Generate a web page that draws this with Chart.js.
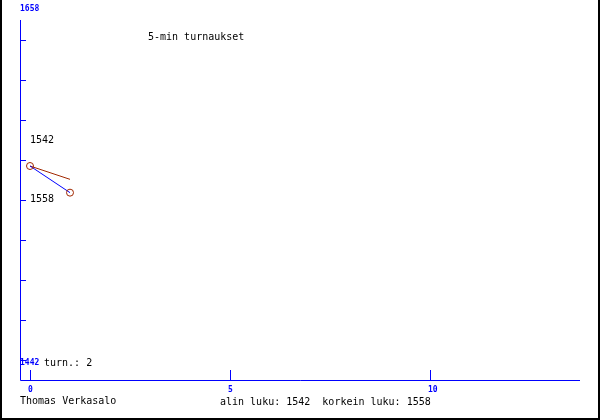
<!DOCTYPE html>
<html>
<head>
<meta charset="utf-8">
<title>5-min turnaukset</title>
<script src="https://cdn.jsdelivr.net/npm/chart.js@4"></script>
<style>
    body { margin: 0; background: #fff; }
    #wrap { width: 600px; height: 420px; position: relative; }
</style>
</head>
<body>
<div id="wrap"><canvas id="ratingChart" width="600" height="420"></canvas></div>
<script>
// data
const games = [0, 1];
const ratings = [1542, 1558];
const runningAvg = [1542, 1550];
const xTicks = [0, 5, 10];
const yEndLabels = ['1658', '1442'];
const titleText = '5-min turnaukset';
const author = 'Thomas Verkasalo';
const gameCount = 2;

const BLUE = '#0000ff';
const BROWN = '#a02800';
const MONO = '"DejaVu Sans Mono", "Liberation Mono", monospace';

// axis, labels and frame drawn around the plot
const framePlugin = {
    id: 'frame',
    afterDraw(chart) {
        const ctx = chart.ctx;
        const xs = chart.scales.x;
        const ys = chart.scales.y;
        const area = chart.chartArea;
        const W = chart.width, H = chart.height;

        ctx.save();

        // outer frame (left, right, bottom)
        ctx.strokeStyle = '#000';
        ctx.lineWidth = 2;
        ctx.beginPath();
        ctx.moveTo(1, 0); ctx.lineTo(1, H - 1);
        ctx.lineTo(W - 1, H - 1); ctx.lineTo(W - 1, 0);
        ctx.stroke();

        // axis lines
        ctx.strokeStyle = BLUE;
        ctx.lineWidth = 1;
        ctx.beginPath();
        ctx.moveTo(area.left + 0.5, area.top);
        ctx.lineTo(area.left + 0.5, area.bottom + 0.5);
        ctx.lineTo(area.right, area.bottom + 0.5);
        ctx.stroke();

        // y ticks: one every 40 px
        const step = (area.bottom - area.top) / 9;
        ctx.beginPath();
        for (let i = 0; i < 9; i++) {
            const py = Math.round(area.top + step / 2 + i * step) + 0.5;
            ctx.moveTo(area.left, py);
            ctx.lineTo(area.left + 6, py);
        }
        ctx.stroke();

        // x ticks and labels
        ctx.fillStyle = BLUE;
        ctx.font = 'bold 8px ' + MONO;
        ctx.textBaseline = 'middle';
        ctx.textAlign = 'left';
        ctx.beginPath();
        xTicks.forEach(v => {
            const px = Math.round(xs.getPixelForValue(v)) + 0.5;
            ctx.moveTo(px, area.bottom - 10);
            ctx.lineTo(px, area.bottom);
            ctx.fillText(String(v), px - 2.5, area.bottom + 9.5);
        });
        ctx.stroke();

        // y end labels
        ctx.fillText(yEndLabels[0], area.left, 9);
        ctx.fillText(yEndLabels[1], area.left, 363);

        // black texts
        ctx.fillStyle = '#000';
        ctx.font = '10px ' + MONO;
        ctx.fillText('turn.: ' + gameCount, 44, 363);
        ctx.fillText(titleText, 148, 37);
        ctx.fillText(author, 20, 401);
        const lo = Math.min(...ratings), hi = Math.max(...ratings);
        ctx.fillText('alin luku: ' + lo + '  korkein luku: ' + hi, 220, 402);

        // value labels for lowest and highest rating
        const x0 = xs.getPixelForValue(games[0]);
        ctx.fillText(String(lo), x0, ys.getPixelForValue(lo) - 26);
        ctx.fillText(String(hi), x0, ys.getPixelForValue(hi) + 6.5);

        ctx.restore();
    }
};

const ctx = document.getElementById('ratingChart').getContext('2d');
new Chart(ctx, {
    type: 'scatter',
    data: {
        datasets: [
            {
                label: 'keskiarvo',
                data: games.map((g, i) => ({ x: g, y: runningAvg[i] })),
                showLine: true,
                borderColor: BROWN,
                borderWidth: 1,
                pointRadius: 0,
                order: 2
            },
            {
                label: 'luku',
                data: games.map((g, i) => ({ x: g, y: ratings[i] })),
                showLine: true,
                borderColor: BLUE,
                borderWidth: 1,
                pointRadius: 3.5,
                pointBorderColor: BROWN,
                pointBorderWidth: 1,
                pointBackgroundColor: 'rgba(0,0,0,0)',
                order: 1
            }
        ]
    },
    options: {
        responsive: false,
        animation: false,
        layout: { padding: { left: 20, right: 20, top: 20, bottom: 40 } },
        plugins: {
            legend: { display: false },
            tooltip: { enabled: false }
        },
        scales: {
            x: { type: 'linear', display: false, min: -0.25, max: 13.75 },
            y: { type: 'linear', display: false, reverse: true, min: 1454.4, max: 1670.4 }
        }
    },
    plugins: [framePlugin]
});
</script>
</body>
</html>
